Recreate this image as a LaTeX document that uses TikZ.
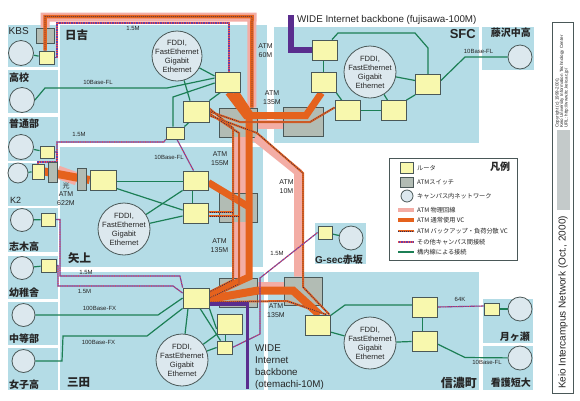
\documentclass[tikz,border=0pt]{standalone}
\usepackage{fontspec}
\setmainfont{Liberation Sans}
\newfontfamily\cjk{Noto Sans CJK JP}
\pgfdeclarelayer{bg}
\pgfdeclarelayer{sw}
\pgfdeclarelayer{ln}
\pgfsetlayers{bg,sw,ln,main}
\definecolor{regblue}{HTML}{B4DCE6}
\definecolor{rtf}{HTML}{F8F8AE}
\definecolor{rtd}{HTML}{4A5858}
\definecolor{swf}{HTML}{B2BCB4}
\definecolor{lanf}{HTML}{DCE8EE}
\definecolor{pkc}{HTML}{F3ADA5}
\definecolor{ogc}{HTML}{E5621D}
\definecolor{dotc}{HTML}{2A2A55}
\definecolor{purc}{HTML}{6B3FA5}
\definecolor{redc}{HTML}{E85050}
\definecolor{widec}{HTML}{5A2D8E}
\definecolor{grc}{HTML}{1C7F55}
\definecolor{txc}{HTML}{262626}
\definecolor{stripc}{HTML}{C4CACA}
\tikzset{
 rt/.style 2 args={draw=rtd, fill=rtf, line width=0.8pt, inner sep=0pt, minimum width=#1, minimum height=#2},
 sw/.style 2 args={draw=rtd, fill=swf, line width=0.8pt, inner sep=0pt, minimum width=#1, minimum height=#2},
 lan/.style={circle, draw=rtd, fill=lanf, line width=0.8pt, inner sep=0pt, minimum size=#1},
 lan/.default=24pt,
 fddi/.style={font=\fontsize{7.6}{9}\selectfont, align=center, text=txc, inner sep=0pt},
 pk/.style={draw=pkc, line width=9pt},
 og/.style={draw=ogc, line width=7pt},
 bk/.style={draw=ogc, line width=2pt, postaction={draw=dotc, line width=0.8pt, dash pattern=on 0.8pt off 1.2pt}},
 ot/.style={draw=purc, line width=1.1pt, postaction={draw=redc, line width=1.1pt, dash pattern=on 0.8pt off 1.6pt}},
 gr/.style={draw=grc, line width=1.2pt},
 wd/.style={draw=widec, line width=5pt},
 sm/.style={font=\fontsize{6}{7}\selectfont, text=txc, inner sep=0pt},
 atm/.style={font=\fontsize{7}{8.8}\selectfont, text=txc, align=center, inner sep=0pt},
 jp/.style={font=\cjk\bfseries\fontsize{10}{10}\selectfont, text=txc, inner sep=0pt},
 jpL/.style={font=\cjk\bfseries\fontsize{11.5}{11.5}\selectfont, text=txc, inner sep=0pt},
 lg/.style={font=\cjk\fontsize{6.2}{7}\selectfont, text=txc, inner sep=0pt, anchor=west},
}
\begin{document}
\begin{tikzpicture}[x=1pt,y=-1pt]
\useasboundingbox (0,0) rectangle (580,400);
\begin{pgfonlayer}{bg}
\fill[white] (0,0) rectangle (580,400);
\foreach \a/\b/\c/\d in {8/25/58/67, 8/70/58/113, 8/117/58/161, 8/163/58/206, 8/208/58/252, 8/256/58/299, 8/302/58/345, 8/348/58/390, 60/25/267/143, 60/147/263/267, 60/272/264/390, 274/27/479/143, 482/27/534/70, 268/272/479/390, 483/299/533/343, 483/346/533/390, 315/223/366/264}
  \fill[regblue] (\a,\b) rectangle (\c,\d);
\end{pgfonlayer}

% ATM switches
\begin{pgfonlayer}{sw}
\node[sw={18pt}{15pt}] (Skbs) at (45,35.5) {};
\node[sw={38pt}{29pt}] (Sh) at (238.5,122.5) {};
\node[sw={38pt}{29pt}] (Sy) at (238.5,207.5) {};
\node[sw={38pt}{29pt}] (Sm) at (238.5,292.5) {};
\node[sw={38pt}{28pt}] (Ss) at (303,291) {};
\node[sw={40pt}{29pt}] (Sf) at (303,121.5) {};
\end{pgfonlayer}
\node[sw={9pt}{20pt}] (Sk2) at (52.5,172) {};
\node[sw={9pt}{22pt}] (Sy0) at (82,179) {};

% routers
\node[rt={15pt}{13pt}] (Rkbs) at (46.5,57.5) {};
\node[rt={14pt}{12pt}] (Rfut) at (47,152) {};
\node[rt={12pt}{15pt}] (Rk2) at (38,171.5) {};
\node[rt={14pt}{13pt}] (Rshiki) at (48,219.5) {};
\node[rt={15pt}{13pt}] (Ryochi) at (48.5,265.5) {};
\node[rt={25pt}{20pt}] (Rh1) at (227.5,82) {};
\node[rt={26pt}{21pt}] (Rh2) at (196,111.5) {};
\node[rt={18pt}{12pt}] (Rh3) at (175,133) {};
\node[rt={26pt}{20pt}] (Ry1) at (103,180) {};
\node[rt={25pt}{19pt}] (Ry2) at (195.5,180.5) {};
\node[rt={25pt}{20pt}] (Ry3) at (195.5,213) {};
\node[rt={26pt}{20pt}] (Rm1) at (196,298) {};
\node[rt={25pt}{20pt}] (Rm2) at (229.5,324) {};
\node[rt={15pt}{13pt}] (Rm3) at (224.5,347.5) {};
\node[rt={25pt}{20pt}] (Rs1) at (317.5,325) {};
\node[rt={25pt}{20pt}] (Rs2) at (425,307) {};
\node[rt={25pt}{20pt}] (Rs3) at (424.5,341.5) {};
\node[rt={15pt}{12pt}] (Rtsuki) at (491.5,309) {};
\node[rt={14pt}{13pt}] (Rgsec) at (325,232.5) {};
\node[rt={25pt}{20pt}] (Rf1) at (325,50) {};
\node[rt={25pt}{20pt}] (Rf2) at (323.5,82.5) {};
\node[rt={25pt}{20pt}] (Rf3) at (347.5,110.5) {};
\node[rt={25pt}{20pt}] (Rf4) at (393.5,110.5) {};
\node[rt={25pt}{20pt}] (Rf5) at (428,84.5) {};

% campus networks
\node[lan=25pt] (Lkbs) at (21,53) {};
\node[lan=25pt] (Lkou) at (22,100) {};
\node[lan=25pt] (Lfut) at (21,147) {};
\node[lan=20pt] (Lk2) at (18,173) {};
\node[lan=23pt] (Lshiki) at (22,220) {};
\node[lan=23pt] (Lyochi) at (22,268) {};
\node[lan=23pt] (Lchu) at (23.5,315) {};
\node[lan=23pt] (Ljoshi) at (23.5,361) {};
\node[lan=24pt] (Lfuji) at (520,57) {};
\node[lan=24pt] (Ltsuki) at (520,309) {};
\node[lan=24pt] (Lkango) at (520,358) {};
\node[lan=24pt] (Lgsec) at (351,238) {};
\node[lan=50pt] (Lh) at (177,56) {};
\node[lan=52pt] (Ly) at (124,229) {};
\node[lan=52pt] (Lm) at (182,360) {};
\node[lan=52pt] (Ls) at (370,343) {};
\node[lan=52pt] (Lf) at (370,72) {};
\foreach \n in {Lh,Ly,Lm,Ls,Lf}
  \node[fddi] (T\n) at (\n) {FDDI,\\FastEthernet\\Gigabit\\Ethernet};

\coordinate (wideF) at (291,15);
\coordinate (wideO) at (247.5,389);

\begin{pgfonlayer}{ln}
% ATM physical lines
\draw[pk] (Skbs.north) -- (45,17) -- (252,17) -- ([xshift=-6pt]Sh.north east);
\draw[pk] ([yshift=-1.5pt]Sh.east) -- ([yshift=-2.5pt]Sf.west);
\draw[pk, line width=14pt] (Sh.south) -- (Sy.north);
\draw[pk, line width=14pt] (Sy.south) -- (Sm.north);
\draw[pk, line width=8pt] ([xshift=-3pt]Sh.south east) -- (298,172) -- ([xshift=-5pt]Ss.north);
\draw[pk, line width=6pt] ([yshift=8pt]Sm.east) -- ([yshift=6.5pt]Ss.west);
\draw[pk, line width=13pt] (Sk2.east) -- (Sy0.west);
% ATM normal VC
\draw[og] ([xshift=1pt]Rh1.south) -- (246,115.5) -- (306,115.5) -- ([xshift=-2pt]Rf2.south);
\draw[og] ([xshift=8pt]Rh1.south) -- (249,113) -- (249,277) -- ([yshift=3pt]Rm1.east);
\draw[og] ([yshift=-2pt]Ry2.east) -- (249,207);
\draw[og, line width=8pt] ([yshift=-1pt]Rm1.east) -- (258,290.5) -- (293,290.5) -- ([xshift=2pt]Rs1.north);
\draw[og, line width=8pt] (Rk2.east) -- (Ry1.west);
% ATM backup VC
\draw[bk, line width=3.5pt] ([xshift=-1.5pt]Rkbs.north) -- (45,16.5) -- (252,16.5) -- ([xshift=-6pt]Sh.north east);
\draw[bk] (Rh2.east) -- (240,122) -- (310,122) -- ([yshift=3pt]Rf3.west);
\draw[bk] ([yshift=3pt]Rh2.east) -- (233,128) -- (233,280) -- ([yshift=6pt]Rm1.east);
\draw[bk] ([yshift=-2pt]Rh2.east) -- (239,133) -- (239,284) -- (Rm1.east);
\draw[bk] ([yshift=-4pt]Rh2.east) -- (257,133) -- (303,173) -- (303,287) -- ([xshift=-1pt]Rs1.north east);
\draw[bk] ([yshift=1pt]Ry3.east) -- (233,212);
\draw[bk] ([yshift=-3pt]Ry3.east) -- (239,216);
\draw[bk] ([yshift=-4pt]Rm1.east) -- (287,301) -- ([xshift=9pt]Rs1.north);
% other inter-campus lines
\draw[ot] (Rkbs.east) -- (57,57.5) -- (57,23) -- (229,23) -- ([xshift=1.5pt]Rh1.north);
\draw[ot] (Rfut.east) -- (57,152) -- (57,142) -- (164,142) -- (Rh3.south west);
\draw[ot] (Rk2.north) -- (38,162) -- (57,162) -- (57,152);
\draw[ot] ([xshift=2pt]Rh3.south) -- ([xshift=-2pt]Ry2.north);
\draw[ot] (Rshiki.east) -- (60,219.5) -- (60,276) -- (180,276) -- (Rm1.north west);
\draw[ot] (Ryochi.east) -- (58,265.5) -- (58,286) -- (173,286) -- ([yshift=5pt]Rm1.west);
\draw[ot] (Rm3.east) -- (260,334) -- (260,278) -- (Rgsec.west);
\draw[ot] (Rs2.east) -- ([yshift=3pt]Rtsuki.west);
% in-campus lines
\draw[gr] (Lkbs) -- (Rkbs);
\draw[gr] (Lkou.east) -- (45,88) -- (167,88) -- ([yshift=4pt]Rh1.west);
\draw[gr] (Lfut) -- (Rfut);
\draw[gr] (Lk2) -- (Rk2);
\draw[gr] ([xshift=-2pt]Rh3.north) -- (173,97) -- ([yshift=-1pt]Rh1.west);
\draw[gr] (Lh) -- ([yshift=6pt]Rh1.west);
\draw[gr] (Lh) -- ([xshift=-6pt]Rh2.north);
\draw[gr] (Rh2.north east) -- ([xshift=-7pt]Rh1.south);
\draw[gr] (Rh3.north east) -- ([xshift=-7pt]Rh2.south);
\draw[gr] ([yshift=-1.5pt]Ry1.east) -- ([yshift=-1pt]Ry2.west);
\draw[gr] ([yshift=2pt]Ry1.south east) -- ([yshift=3pt]Ry3.west);
\draw[gr] (Ly) -- (Ry2.south west);
\draw[gr] (Ly) -- ([yshift=-3pt]Ry3.west);
\draw[gr] ([xshift=-3pt]Ry2.south) -- ([xshift=-3pt]Ry3.north);
\draw[gr] (Lshiki) -- (Rshiki);
\draw[gr] (Lyochi) -- (Ryochi);
\draw[gr] (Lchu.east) -- (158,315) -- (Rm1.west);
\draw[gr] (Ljoshi.east) -- (62,361) -- (63,336) -- (147,336) -- (Rm1.south west);
\draw[gr] ([xshift=-8pt]Rm1.south) -- (Lm);
\draw[gr] ([xshift=4pt]Rm1.south) -- ([xshift=-4pt]Rm3.north);
\draw[gr] (Rm1.south east) -- ([yshift=-5pt]Rm2.west);
\draw[gr] (Lm) -- (Rm2.south west);
\draw[gr] (Lm) -- (Rm3.west);
\draw[gr] ([xshift=-4pt]Rm2.south) -- ([xshift=1pt]Rm3.north);
\draw[gr] ([yshift=-1pt]Rs1.north east) -- (345,305) -- ([yshift=2pt]Rs2.west);
\draw[gr] ([yshift=-7pt]Rs1.east) -- (Ls);
\draw[gr] (Ls) -- (Rs3.west);
\draw[gr] ([xshift=-2.5pt]Rs2.south) -- ([xshift=-2pt]Rs3.north);
\draw[gr] ([yshift=-2.5pt]Rs3.east) -- (465,357.5) -- (Lkango);
\draw[gr] (Rtsuki) -- (Ltsuki);
\draw[gr] (Rgsec) -- (Lgsec);
\draw[gr] ([xshift=-1.5pt]Rf1.south) -- (Rf2.north);
\draw[gr] (Rf2.south east) -- ([xshift=7pt]Rf3.north west);
\draw[gr] (Rf3.east) -- (Rf4.west);
\draw[gr] (Rf4.north east) -- (Rf5.south west);
\draw[gr] (Lf) -- ([yshift=4pt]Rf5.west);
\draw[gr] (Lf) -- ([xshift=-6pt]Rf4.north);
\draw[gr] ([xshift=7pt]Rf1.north) -- (338,33) -- (415,33) -- (428,48) -- (Rf5.north);
\draw[gr] ([yshift=4pt]Rf5.east) -- (465,57) -- (Lfuji);
% WIDE backbones
\draw[wd, line width=5.5pt] (wideF) -- (291,50) -- (Rf1.west);
\draw[wd, line width=3.5pt] ([yshift=-6pt]Rm1.east) -- (247.5,304) -- (wideO);
\end{pgfonlayer}

% campus labels
\node[font=\fontsize{10}{10}\selectfont, text=txc, anchor=west, inner sep=0pt] (tKBS) at (8.5,31) {KBS};
\node[jp, anchor=west] (t1) at (9,78) {高校};
\node[jp, anchor=west] (t2) at (9,124) {普通部};
\node[font=\fontsize{9}{9}\selectfont, text=txc, anchor=west, inner sep=0pt] (tK2) at (10,200) {K2};
\node[jp, anchor=west] (t3) at (9,247) {志木高};
\node[jp, anchor=west] (t4) at (9,293) {幼稚舎};
\node[jp, anchor=west] (t5) at (9,339) {中等部};
\node[jp, anchor=west] (t6) at (9,385) {女子高};
\node[jpL, anchor=west] (t7) at (65,35) {日吉};
\node[jpL, anchor=west] (t8) at (68,258) {矢上};
\node[jpL, anchor=west] (t9) at (67,382) {三田};
\node[font=\bfseries\fontsize{13}{13}\selectfont, text=txc, anchor=east, inner sep=0pt] (tSFC) at (476,34) {SFC};
\node[jp, anchor=east] (t10) at (531,33) {藤沢中高};
\node[jpL, anchor=east, font=\cjk\bfseries\fontsize{12}{12}\selectfont] (t11) at (477,383) {信濃町};
\node[jp, anchor=east] (t12) at (530,337) {月ヶ瀬};
\node[jp, anchor=east] (t13) at (531,383) {看護短大};
\node[anchor=west, inner sep=0pt, text=txc] (t14) at (315,260) {\fontsize{10}{10}\selectfont\bfseries G-sec\cjk 赤坂};

% link labels
\node[sm] (l1) at (133,28) {1.5M};
\node[sm] (l2) at (98,82) {10Base-FL};
\node[sm] (l3) at (79,134) {1.5M};
\node[sm] (l4) at (169,157) {10Base-FL};
\node[atm] (l5) at (265.5,51) {ATM\\60M};
\node[atm] (l6) at (272,98) {ATM\\135M};
\node[atm] (l7) at (220,158.5) {ATM\\155M};
\node[atm] (l8) at (286.5,187) {ATM\\10M};
\node[atm] (l9) at (66,194) {{\cjk 光}\\ATM\\622M};
\node[atm] (l10) at (219.5,246) {ATM\\135M};
\node[sm] (l11) at (86,272) {1.5M};
\node[sm] (l12) at (84.5,291) {1.5M};
\node[sm] (l13) at (99.5,308) {100Base-FX};
\node[sm] (l14) at (98.5,342) {100Base-FX};
\node[sm] (l15) at (277,253) {1.5M};
\node[atm] (l16) at (276,311) {ATM\\135M};
\node[sm] (l17) at (460,299) {64K};
\node[sm] (l18) at (487,362) {10Base-FL};
\node[sm] (l19) at (478.5,51) {10Base-FL};
\node[anchor=west, inner sep=0pt, text=txc, font=\fontsize{9.8}{9.8}\selectfont] (w1) at (297,20) {WIDE Internet backbone (fujisawa-100M)};
\node[anchor=north west, inner sep=0pt, text=txc, align=left, font=\fontsize{9.8}{12}\selectfont] (w2) at (255,345) {WIDE\\Internet\\backbone\\(otemachi-10M)};

% legend
\draw[draw=rtd, line width=0.8pt] (389,158) rectangle (517,260);
\node[font=\cjk\bfseries\fontsize{10}{10}\selectfont, text=txc, inner sep=0pt] (legT) at (500,167) {凡例};
\node[rt={13pt}{11pt}] (legR) at (406.5,167.5) {};
\node[sw={13pt}{10pt}] (legS) at (406.5,182) {};
\node[lan=12pt] (legL) at (407,196) {};
\coordinate (lga1) at (398,210); \coordinate (lgb1) at (414,210);
\coordinate (lga2) at (398,220); \coordinate (lgb2) at (414,220);
\coordinate (lga3) at (398,231); \coordinate (lgb3) at (414,231);
\coordinate (lga4) at (398,242); \coordinate (lgb4) at (414,242);
\coordinate (lga5) at (398,252); \coordinate (lgb5) at (414,252);
\draw[pk, line width=4.5pt] (lga1) -- (lgb1);
\draw[og, line width=3.5pt] (lga2) -- (lgb2);
\draw[bk] (lga3) -- (lgb3);
\draw[ot] (lga4) -- (lgb4);
\draw[gr] (lga5) -- (lgb5);
\node[lg] (lt1) at (417,168) {ルータ};
\node[lg] (lt2) at (417,182) {ATMスイッチ};
\node[lg] (lt3) at (417,196) {キャンパス内ネットワーク};
\node[lg] (lt4) at (417,210) {ATM 物理回線};
\node[lg] (lt5) at (417,220) {ATM 通常使用 VC};
\node[lg] (lt6) at (417,231) {ATM バックアップ・負荷分散 VC};
\node[lg] (lt7) at (417,242) {その他キャンパス間接続};
\node[lg] (lt8) at (417,252) {構内線による接続};

% right title box
\draw[draw=rtd, line width=0.9pt] (552,22) rectangle (573,393);
\fill[stripc] (556.5,130) rectangle (569.5,210);
\node[rotate=90, anchor=west, inner sep=0pt, text=txc, font=\fontsize{4.5}{5}\selectfont] (cp1) at (557.5,128) {Copyright (c) 1999-2000,};
\node[rotate=90, anchor=west, inner sep=0pt, text=txc, font=\fontsize{4.5}{5}\selectfont] (cp2) at (562,128) {Keio University Information Technology Center};
\node[rotate=90, anchor=west, inner sep=0pt, text=txc, font=\fontsize{4.5}{5}\selectfont] (cp3) at (566.5,128) {URL: http://www.itc.keio.ac.jp/};
\node[rotate=90, inner sep=0pt, text=txc, font=\fontsize{10}{10}\selectfont] (title) at (563,302.5) {Keio Intercampus Network (Oct., 2000)};
\end{tikzpicture}
\end{document}
